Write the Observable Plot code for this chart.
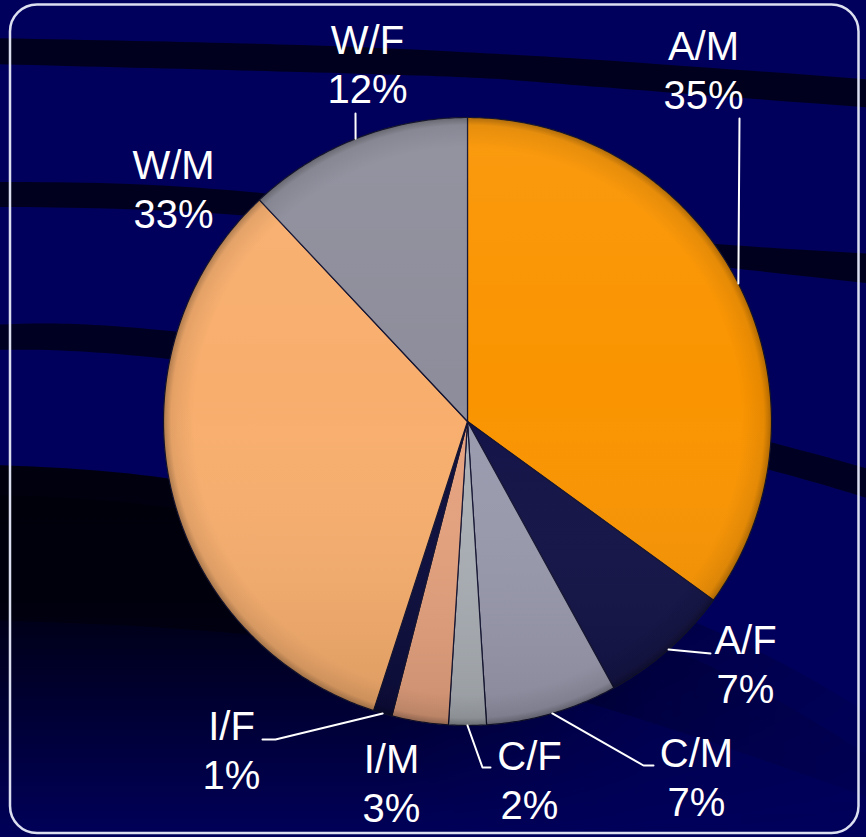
<!DOCTYPE html>
<html><head><meta charset="utf-8">
<script src="https://cdn.jsdelivr.net/npm/d3@7"></script>
<script src="https://cdn.jsdelivr.net/npm/@observablehq/plot@0.6"></script>
<style>
html,body{margin:0;padding:0;background:#00005a;}
#wrap{position:relative;width:866px;height:837px;overflow:hidden;}
#bg{position:absolute;left:0;top:0;}
#chart{position:absolute;left:0;top:0;}
</style></head><body>
<div id="wrap"><svg id="bg" width="866" height="837"></svg><div id="chart"></div></div>
<script>
// ---- data ----
const groups = ["A/M", "A/F", "C/M", "C/F", "I/M", "I/F", "W/M", "W/F"];
const shares = [35, 7, 7, 2, 3, 1, 33, 12];
const sliceColors = ["#fa9400", "#111146", "#9a9aae", "#abb0b6", "#e6a27e", "#0b0b3c", "#f8ae6d", "#8d8d9b"];

// ---- layout (pixels) ----
const W = 866, H = 837, CX = 467, CY = 421, R = 304;
const labelAt = {
  "A/M": [703, 108], "A/F": [745, 702], "C/M": [696, 815], "C/F": [529, 818],
  "I/M": [391, 821], "I/F": [231, 788], "W/M": [173, 227], "W/F": [367, 102]
};
const leaderTo = {
  "A/M": [[739, 118]], "A/F": [[710, 653]], "C/M": [[643, 765], [653, 765]],
  "C/F": [[482, 767], [490, 767]], "I/F": [[275, 739], [262, 739]], "W/F": [[355, 113]]
};
const ux = (px) => (px - CX) / R, uy = (py) => (CY - py) / R;

// ---- background decoration ----
(function drawBg() {
  const bg = d3.select("#bg");
  const defs = bg.append("defs");
  const vg = defs.append("linearGradient").attr("id", "darkV").attr("gradientUnits", "userSpaceOnUse")
    .attr("x1", 0).attr("y1", 465).attr("x2", 0).attr("y2", 845);
  vg.append("stop").attr("offset", 0).attr("stop-color", "#00000e").attr("stop-opacity", 1);
  vg.append("stop").attr("offset", 0.36).attr("stop-color", "#000014").attr("stop-opacity", 1);
  vg.append("stop").attr("offset", 1).attr("stop-color", "#000014").attr("stop-opacity", 0);
  const hg = defs.append("linearGradient").attr("id", "fadeH").attr("gradientUnits", "userSpaceOnUse")
    .attr("x1", 0).attr("y1", 0).attr("x2", 866).attr("y2", 0);
  hg.append("stop").attr("offset", 0).attr("stop-color", "white");
  hg.append("stop").attr("offset", 0.45).attr("stop-color", "white");
  hg.append("stop").attr("offset", 0.75).attr("stop-color", "#555");
  hg.append("stop").attr("offset", 1).attr("stop-color", "#222");
  defs.append("mask").attr("id", "maskH").append("rect").attr("width", 866).attr("height", 837).attr("fill", "url(#fadeH)");

  bg.append("rect").attr("width", W).attr("height", H).attr("fill", "#00005c");
  const ln = d3.line().curve(d3.curveNatural);
  const band = (top, bot) => ln(top) + "L" + ln(bot.slice().reverse()).slice(1) + "Z";
  // bands
  bg.append("path").attr("fill", "#00001e")
    .attr("d", band([[-10, 38], [300, 45], [480, 53], [600, 60], [876, 80]], [[-10, 64], [300, 72], [480, 78], [600, 87], [876, 108]]));
  bg.append("path").attr("fill", "#00001e")
    .attr("d", band([[-10, 182], [250, 192], [600, 233], [876, 254]], [[-10, 207], [250, 216], [600, 253], [876, 284]]));
  bg.append("path").attr("fill", "#00001c").attr("opacity", 0.9)
    .attr("d", band([[-10, 325], [160, 330], [500, 380], [770, 442], [876, 471]], [[-10, 350], [160, 358], [500, 408], [770, 470], [876, 501]]));
  bg.append("path").attr("fill", "url(#darkV)").attr("mask", "url(#maskH)")
    .attr("d", band([[-10, 465], [165, 478], [420, 530], [697, 623], [876, 718]], [[-10, 900], [876, 900]]));
  bg.append("path").attr("fill", "#000008").attr("opacity", 0.5).attr("mask", "url(#maskH)")
    .attr("d", band([[-10, 495], [165, 507], [420, 560], [697, 660], [876, 760]], [[-10, 620], [420, 660], [876, 800]]));
  bg.append("rect").attr("x", 10).attr("y", 4.5).attr("width", 848.5).attr("height", 828.5).attr("rx", 27)
    .attr("fill", "none").attr("stroke", "#dcdff0").attr("stroke-width", 2.5);
})();

// ---- build slice polygons from the data ----
const rows = groups.map((g, i) => ({group: g, share: shares[i]}));
const arcs = d3.pie().sort(null).value((d) => d.share)(rows);
const slicePts = [];
const leaderPts = [];
const labelRows = [];
arcs.forEach((a) => {
  const g = a.data.group;
  slicePts.push({group: g, x: 0, y: 0});
  const n = Math.max(2, Math.ceil((a.endAngle - a.startAngle) / 0.01));
  for (let k = 0; k <= n; ++k) {
    const t = a.startAngle + (a.endAngle - a.startAngle) * k / n;
    slicePts.push({group: g, x: Math.sin(t), y: Math.cos(t)});
  }
  const mid = (a.startAngle + a.endAngle) / 2;
  if (leaderTo[g]) {
    leaderPts.push({group: g, x: Math.sin(mid), y: Math.cos(mid)});
    for (const [px, py] of leaderTo[g]) leaderPts.push({group: g, x: ux(px), y: uy(py)});
  }
  const [lx, ly] = labelAt[g];
  labelRows.push({group: g, x: ux(lx), y: uy(ly), text: `${g}\n${a.data.share}%`});
});

const svg = Plot.plot({
  width: W, height: H,
  margin: 0,
  style: {background: "transparent", overflow: "visible"},
  x: {domain: [ux(0), ux(W)], axis: null},
  y: {domain: [uy(H), uy(0)], axis: null},
  color: {domain: groups, range: sliceColors},
  marks: [
    Plot.line(slicePts, {x: "x", y: "y", z: "group", fill: "group", stroke: "#121230", strokeWidth: 1.2, curve: "linear-closed"}),
    Plot.dot([{x: 0, y: 0}], {x: "x", y: "y", r: R, fill: "url(#gloss)", stroke: null}),
    Plot.dot([{x: 0, y: 0}], {x: "x", y: "y", r: R, fill: "url(#rim)", stroke: null}),
    Plot.line(leaderPts, {x: "x", y: "y", z: "group", stroke: "white", strokeWidth: 2}),
    Plot.text(labelRows, {x: "x", y: "y", text: "text", fill: "white", fontSize: 40,
      fontFamily: "'Liberation Sans', Arial, sans-serif", lineAnchor: "bottom", lineHeight: 1.22, textAnchor: "middle"})
  ]
});
const sd = d3.select(svg).insert("defs", ":first-child");
const gl = sd.append("linearGradient").attr("id", "gloss").attr("x1", 0).attr("y1", 0).attr("x2", 0).attr("y2", 1);
gl.append("stop").attr("offset", 0).attr("stop-color", "white").attr("stop-opacity", 0.06);
gl.append("stop").attr("offset", 0.45).attr("stop-color", "white").attr("stop-opacity", 0);
gl.append("stop").attr("offset", 1).attr("stop-color", "black").attr("stop-opacity", 0.12);
const rg = sd.append("radialGradient").attr("id", "rim");
rg.append("stop").attr("offset", 0).attr("stop-color", "black").attr("stop-opacity", 0);
rg.append("stop").attr("offset", 0.9).attr("stop-color", "black").attr("stop-opacity", 0);
rg.append("stop").attr("offset", 0.975).attr("stop-color", "black").attr("stop-opacity", 0.08);
rg.append("stop").attr("offset", 1).attr("stop-color", "black").attr("stop-opacity", 0.3);
d3.select(svg).selectAll("circle").style("pointer-events", "none");
document.getElementById("chart").appendChild(svg);
</script>
</body></html>
